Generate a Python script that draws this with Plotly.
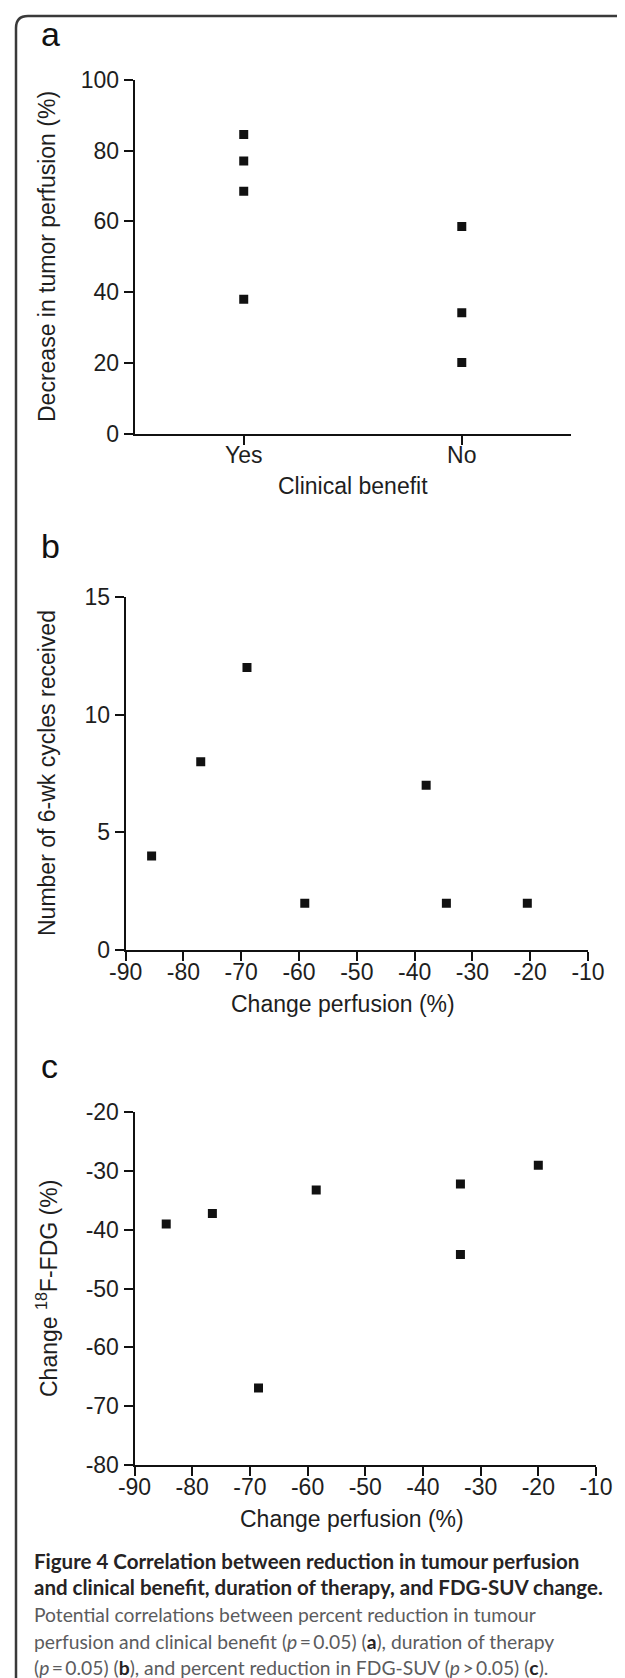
import plotly.graph_objects as go

# ---------------- data ----------------
a_categories = ["Yes", "No"]
a_yes = [84.5, 77, 68.5, 38]
a_no = [58.5, 34.2, 20.1]

b_change_perfusion = [-85.5, -77, -69, -59, -38, -34.5, -20.5]
b_cycles = [4, 8, 12, 2, 7, 2, 2]

c_change_perfusion = [-84.5, -76.5, -68.5, -58.5, -33.5, -33.5, -20]
c_change_fdg = [-39, -37.2, -66.9, -33.2, -32.2, -44.2, -29]

a_yticks = [0, 20, 40, 60, 80, 100]
a_yticklabels = ["0", "20", "40", "60", "80", "100"]
b_xticks = [-90, -80, -70, -60, -50, -40, -30, -20, -10]
b_xticklabels = ["-90", "-80", "-70", "-60", "-50", "-40", "-30", "-20", "-10"]
b_yticks = [0, 5, 10, 15]
b_yticklabels = ["0", "5", "10", "15"]
c_xticks = [-90, -80, -70, -60, -50, -40, -30, -20, -10]
c_xticklabels = ["-90", "-80", "-70", "-60", "-50", "-40", "-30", "-20", "-10"]
c_yticks = [-80, -70, -60, -50, -40, -30, -20]
c_yticklabels = ["-80", "-70", "-60", "-50", "-40", "-30", "-20"]

W, H = 625, 1678


def X(px):
    return px / W


def Y(py):
    return 1 - py / H


FONT = "Liberation Sans, Arial, sans-serif"
AX_FONT = dict(family=FONT, size=23, color="#1e1e1e")
MARK = dict(symbol="square", size=9, color="#111111")

fig = go.Figure()
fig.add_trace(go.Scatter(x=["Yes"] * len(a_yes), y=a_yes, mode="markers", marker=MARK,
                         xaxis="x", yaxis="y"))
fig.add_trace(go.Scatter(x=["No"] * len(a_no), y=a_no, mode="markers", marker=MARK,
                         xaxis="x", yaxis="y"))
fig.add_trace(go.Scatter(x=b_change_perfusion, y=b_cycles, mode="markers", marker=MARK,
                         xaxis="x2", yaxis="y2"))
fig.add_trace(go.Scatter(x=c_change_perfusion, y=c_change_fdg, mode="markers", marker=MARK,
                         xaxis="x3", yaxis="y3"))

axis_common = dict(showline=True, linewidth=2, linecolor="#111111", ticks="outside",
                   ticklen=9, tickwidth=2, tickcolor="#111111", showgrid=False,
                   zeroline=False, tickfont=AX_FONT, automargin=False, mirror=False)
x_common = dict(axis_common, ticklabelstandoff=-9)

fig.update_layout(
    width=W, height=H,
    margin=dict(l=0, r=0, t=0, b=0),
    paper_bgcolor="white", plot_bgcolor="white",
    showlegend=False,
    xaxis=dict(x_common, domain=[X(126.7), X(562.8)], anchor="y", type="category",
               categoryorder="array", categoryarray=a_categories, range=[-0.5, 1.5]),
    yaxis=dict(axis_common, domain=[Y(425.7), Y(71.7)], anchor="x", range=[0, 100],
               tickvals=a_yticks, ticktext=a_yticklabels),
    xaxis2=dict(x_common, domain=[X(117.6), X(580)], anchor="y2", range=[-90, -10],
                tickvals=b_xticks, ticktext=b_xticklabels),
    yaxis2=dict(axis_common, domain=[Y(942.3), Y(588.7)], anchor="x2", range=[0, 15],
                tickvals=b_yticks, ticktext=b_yticklabels),
    xaxis3=dict(x_common, domain=[X(126.5), X(588)], anchor="y3", range=[-90, -10],
                tickvals=c_xticks, ticktext=c_xticklabels),
    yaxis3=dict(axis_common, domain=[Y(1457), Y(1104.3)], anchor="x3", range=[-80, -20],
                tickvals=c_yticks, ticktext=c_yticklabels),
)

ann = []


def add_text(text, px, py, size=23, angle=0, xanchor="center", yanchor="middle",
             family=FONT, color="#1e1e1e"):
    ann.append(dict(text=text, x=X(px), y=Y(py), xref="paper", yref="paper",
                    showarrow=False, textangle=angle, xanchor=xanchor, yanchor=yanchor,
                    font=dict(family=family, size=size, color=color)))


# panel letters
add_text("a", 31, 26, size=34, xanchor="left", color="#111111")
add_text("b", 31, 538, size=34, xanchor="left", color="#111111")
add_text("c", 31, 1058, size=34, xanchor="left", color="#111111")

# axis titles
add_text("Decrease in tumor perfusion (%)", 39, 249, angle=-90)
add_text("Clinical benefit", 345, 478)
add_text("Number of 6-wk cycles received", 39, 765, angle=-90)
add_text("Change perfusion (%)", 335, 996)
add_text("Change <sup>18</sup>F-FDG (%)", 39, 1281, angle=-90)
add_text("Change perfusion (%)", 344, 1511)

# caption
CAP = "Lato, Open Sans, sans-serif"
ts = "\u2009"
cap_lines = [
    ("<b>Figure 4 Correlation between reduction in tumour perfusion</b>", "#262324", 20.5),
    ("<b>and clinical benefit, duration of therapy, and FDG-SUV change.</b>", "#262324", 20.5),
    ("Potential correlations between percent reduction in tumour", "#5b5b5d", 19.3),
    ("perfusion and clinical benefit (<i>p</i>" + ts + "=" + ts + "0.05) (<b><span style='color:#262324'>a</span></b>), duration of therapy", "#5b5b5d", 19.3),
    ("(<i>p</i>" + ts + "=" + ts + "0.05) (<b><span style='color:#262324'>b</span></b>), and percent reduction in FDG-SUV (<i>p</i>" + ts + ">" + ts + "0.05) (<b><span style='color:#262324'>c</span></b>).", "#5b5b5d", 19.3),
]
baselines = [1565, 1591, 1618, 1645, 1671]
for (t, col, sz), bl in zip(cap_lines, baselines):
    add_text(t, 24, bl - 0.58 * sz, size=sz, xanchor="left", family=CAP, color=col)

fig.update_layout(annotations=ann)

# frame: top and left border with rounded top-left corner
r = 12
x0, y0 = 8, 8
path = (f"M {X(W)},{Y(y0)} L {X(x0 + r)},{Y(y0)} "
        f"Q {X(x0)},{Y(y0)} {X(x0)},{Y(y0 + r)} L {X(x0)},{Y(H)}")
fig.add_shape(type="path", path=path, xref="paper", yref="paper",
              line=dict(color="#3a3a3a", width=2.5))

fig.write_html("out.html")
